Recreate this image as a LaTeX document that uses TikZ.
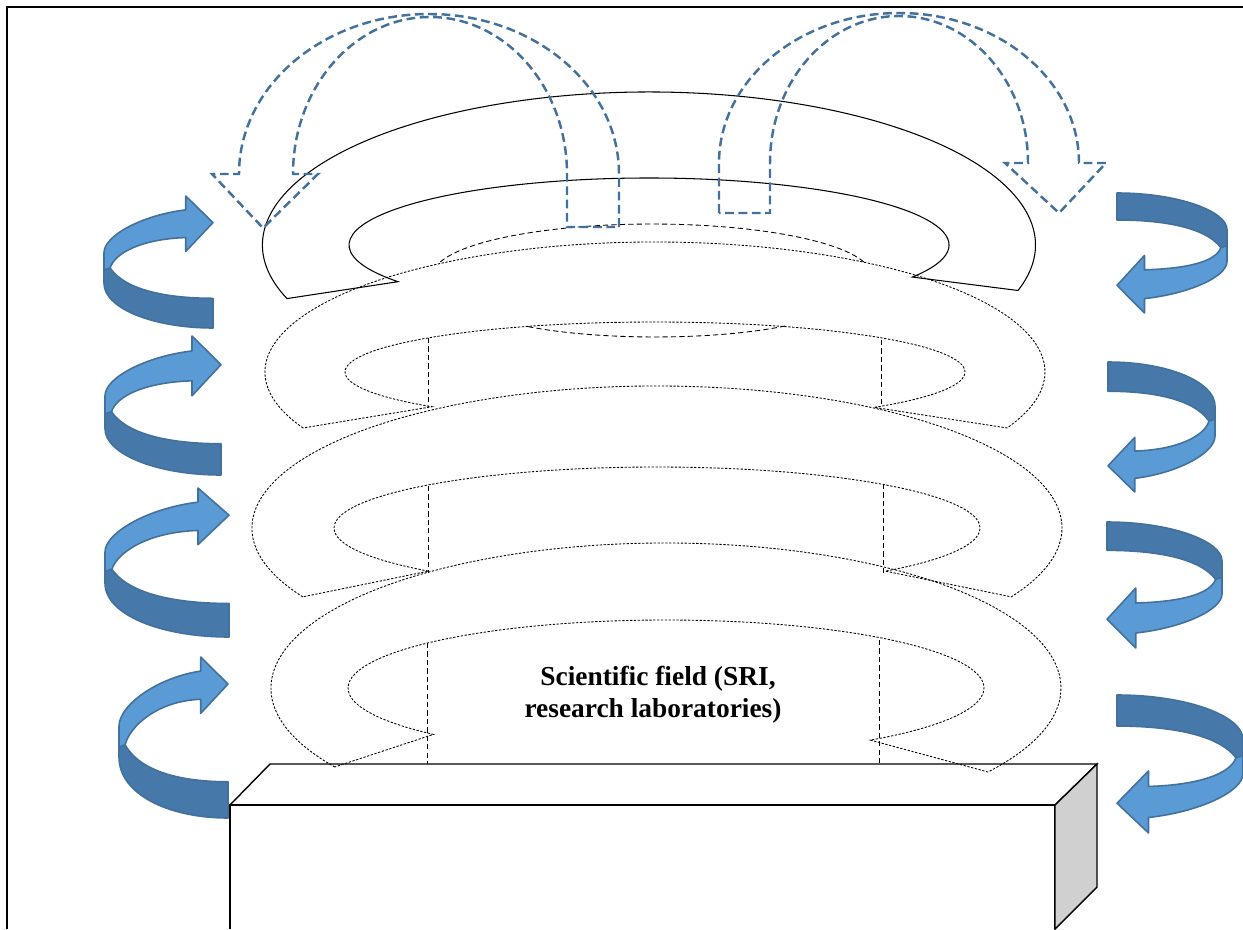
\documentclass[tikz,border=0pt]{standalone}
\usepackage{fontspec}
\setmainfont{Liberation Serif}
\usetikzlibrary{calc}

\definecolor{swirlLight}{RGB}{91,155,213}
\definecolor{swirlDark}{RGB}{70,121,170}
\definecolor{swirlEdge}{RGB}{65,113,156}
\definecolor{boxSide}{RGB}{208,208,208}

\tikzset{
  hoop/.style={black, line width=0.6pt},
  hoop hidden/.style={black, line width=0.5pt, dash pattern=on 1.3pt off 0.9pt},
  pillar/.style={black, line width=0.5pt, dash pattern=on 3pt off 1.8pt},
  uturn/.style={swirlEdge, line width=1.4pt, dash pattern=on 5pt off 2.6pt},
  swirl light/.style={fill=swirlLight, draw=swirlEdge, line width=0.9pt, line join=round},
  swirl dark/.style={fill=swirlDark, draw=swirlEdge, line width=0.9pt, line join=round},
  field text/.style={font=\bfseries\fontsize{15.6}{18}\selectfont, inner sep=0pt}
}

% twisted band arrow in a unit box, #2 = depth of the head
\newcommand{\swirl}[2]{%
  \begin{scope}[#1]
    \pgfmathsetmacro\swhb{#2}
    \filldraw[swirl dark] (0,0.56) -- (0.056,0.545) .. controls (0.2,0.72) and (0.6,0.775) .. (1,0.775)
      -- (1,1) .. controls (0.45,1) and (0,0.85) .. (0,{0.43+0.55*\swhb}) -- cycle;
    \filldraw[swirl light] (0,0.43) .. controls (0,0.3) and (0.35,{0.25*\swhb+0.04}) .. (0.75,{0.25*\swhb})
      -- (0.75,0) -- (1,{0.48*\swhb}) -- (0.75,\swhb) -- (0.75,{0.75*\swhb})
      .. controls (0.35,{0.75*\swhb+0.01}) and (0.1,0.43) .. (0.056,0.545) -- (0,0.56) -- cycle;
  \end{scope}}

\begin{document}
\begin{tikzpicture}[x=0.02cm, y=-0.02cm]
    \useasboundingbox (0,0) rectangle (1243,929);
    \draw[line width=1pt] (7,929) -- (7,7) -- (1243,7);

    % base block
    \draw[line width=0.8pt] (230,929) -- (230,805) -- (1055,805) -- (1055,929);
    \draw[line width=0.8pt] (230,805) -- (270,764) -- (1097,764) -- (1055,805);
    \filldraw[fill=boxSide, line width=0.8pt] (1055,805) -- (1097,764) -- (1097,887) -- (1055,929) -- cycle;

    % rings
    \coordinate (hoopA) at (649,245);
    \coordinate (hoopB) at (655,372);
    \coordinate (hoopC) at (657,528);
    \coordinate (hoopD) at (666,688);
    \draw[hoop] ($(hoopA)+(159.5:386.5 and 153)$) arc[start angle=159.5, end angle=377.3, x radius=386.5, y radius=153]
      -- ($(hoopA)+(28.6:300 and 67)$) arc[start angle=388.6, end angle=146.8, x radius=300, y radius=67] -- cycle;
    \draw[hoop hidden] ($(hoopB)+(154.5:390 and 130)$) arc[start angle=154.5, end angle=385.5, x radius=390, y radius=130]
      -- ($(hoopB)+(45:310 and 50)$) arc[start angle=405, end angle=136, x radius=310, y radius=50] -- cycle;
    \draw[hoop hidden] ($(hoopC)+(151:405 and 142)$) arc[start angle=151, end angle=389, x radius=405, y radius=142]
      -- ($(hoopC)+(45:323 and 61)$) arc[start angle=405, end angle=135, x radius=323, y radius=61] -- cycle;
    \draw[hoop hidden] ($(hoopD)+(147:395 and 145)$) arc[start angle=147, end angle=395.4, x radius=395, y radius=145]
      -- ($(hoopD)+(50:318 and 68)$) arc[start angle=410, end angle=137, x radius=318, y radius=68] -- cycle;

    % hidden edges
    \draw[pillar] (440.3,262) arc[start angle=194.8, end angle=345.2, x radius=219, y radius=51];
    \draw[pillar] (785.1,326) arc[start angle=44.7, end angle=135.3, x radius=183, y radius=37];
    \draw[pillar] (428,338) -- (428,405);
    \draw[pillar] (881,340) -- (881,407);
    \draw[pillar] (428,486) -- (428,573);
    \draw[pillar] (883,484) -- (883,573);
    \draw[pillar] (427,643) -- (427,764);
    \draw[pillar] (879,640) -- (879,764);

    \node[field text, anchor=base] (fieldA) at (658,685) {Scientific field (SRI,};
    \node[field text, anchor=base] (fieldB) at (653,717) {research laboratories)};

    % dashed u-turn arrows on top
    \draw[uturn] (619,227) -- (619,174) arc[start angle=0, end angle=-180, x radius=190, y radius=160]
      -- (212,174) -- (263,228) -- (318,174) -- (293,174)
      arc[start angle=180, end angle=360, x radius=137, y radius=157] -- (567,227) -- cycle;
    \draw[uturn] (719,213) -- (719,163) arc[start angle=180, end angle=360, x radius=180, y radius=150]
      -- (1106,163) -- (1059,213) -- (1005,163) -- (1028,163)
      arc[start angle=0, end angle=-180, x radius=129, y radius=147] -- (770,213) -- cycle;

    % swirls, left side
    \swirl{shift={(104,196)}, xscale=109, yscale=132}{0.42}
    \swirl{shift={(105,336)}, xscale=116, yscale=139}{0.43}
    \swirl{shift={(105,488)}, xscale=124, yscale=149}{0.38}
    \swirl{shift={(119,657)}, xscale=109, yscale=161}{0.35}
    % swirls, right side
    \swirl{shift={(1227,313)}, xscale=-110, yscale=-120}{0.48}
    \swirl{shift={(1215,492)}, xscale=-107, yscale=-130}{0.42}
    \swirl{shift={(1222,648)}, xscale=-115, yscale=-126}{0.476}
    \swirl{shift={(1243,833)}, xscale=-126, yscale=-138}{0.45}
\end{tikzpicture}
\end{document}
